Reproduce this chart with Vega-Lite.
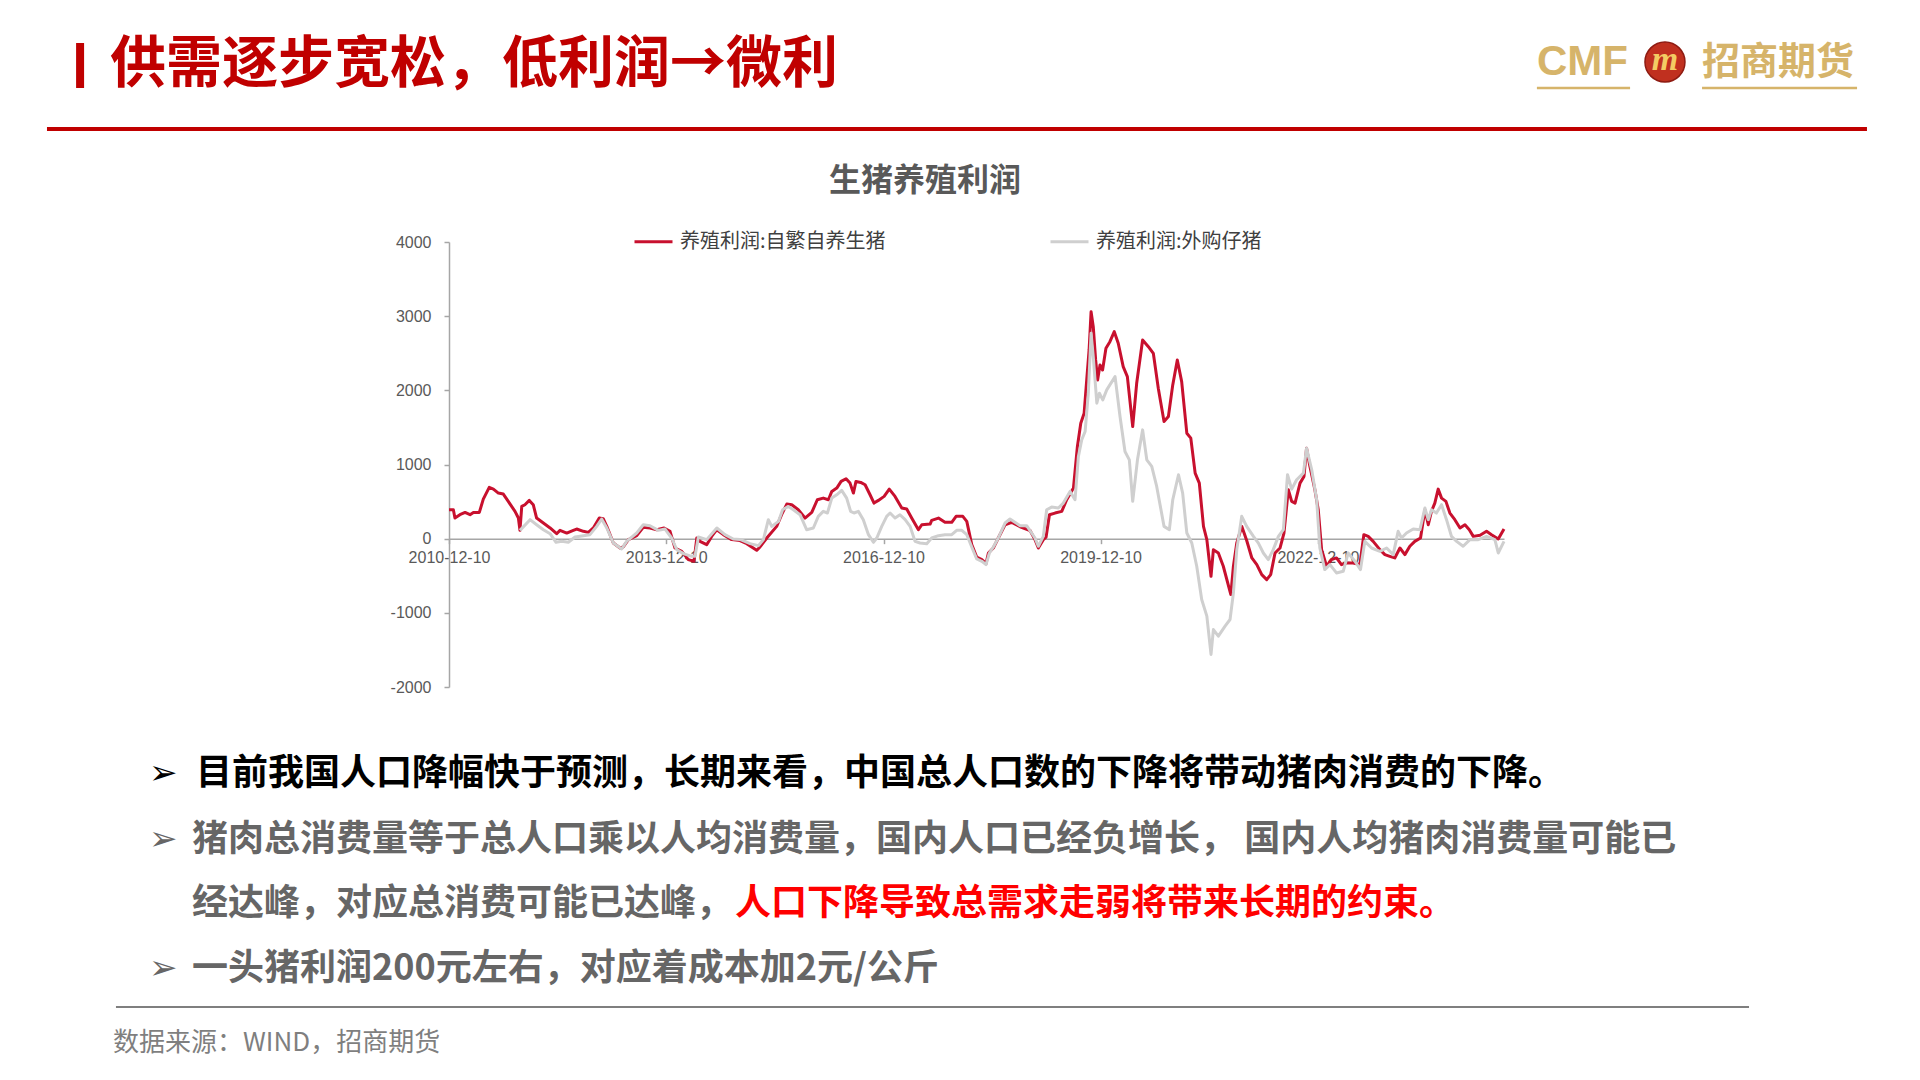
{
  "$schema": "https://vega.github.io/schema/vega-lite/v6.json",
  "width": 1055,
  "height": 445,
  "autosize": {"type": "none"},
  "padding": {"left": 449, "top": 242, "right": 416, "bottom": 393},
  "background": "white",
  "config": {"view": {"stroke": null}, "font": "Noto Sans CJK SC"},
  "datasets": {
    "pig": [
      {"date":"2010-12-10","series":"养殖利润:自繁自养生猪","value":390},
      {"date":"2011-01-01","series":"养殖利润:自繁自养生猪","value":390},
      {"date":"2011-01-09","series":"养殖利润:自繁自养生猪","value":278},
      {"date":"2011-02-03","series":"养殖利润:自繁自养生猪","value":323},
      {"date":"2011-03-01","series":"养殖利润:自繁自养生猪","value":354},
      {"date":"2011-03-26","series":"养殖利润:自繁自养生猪","value":323},
      {"date":"2011-04-12","series":"养殖利润:自繁自养生猪","value":354},
      {"date":"2011-05-12","series":"养殖利润:自繁自养生猪","value":354},
      {"date":"2011-06-01","series":"养殖利润:自繁自养生猪","value":534},
      {"date":"2011-07-01","series":"养殖利润:自繁自养生猪","value":691},
      {"date":"2011-07-22","series":"养殖利润:自繁自养生猪","value":668},
      {"date":"2011-08-16","series":"养殖利润:自繁自养生猪","value":615},
      {"date":"2011-09-10","series":"养殖利润:自繁自养生猪","value":601},
      {"date":"2011-10-05","series":"养殖利润:自繁自养生猪","value":502},
      {"date":"2011-11-08","series":"养殖利润:自繁自养生猪","value":368},
      {"date":"2011-11-25","series":"养殖利润:自繁自养生猪","value":278},
      {"date":"2011-12-03","series":"养殖利润:自繁自养生猪","value":112},
      {"date":"2011-12-12","series":"养殖利润:自繁自养生猪","value":435},
      {"date":"2011-12-28","series":"养殖利润:自繁自养生猪","value":458},
      {"date":"2012-01-19","series":"养殖利润:自繁自养生猪","value":516},
      {"date":"2012-02-08","series":"养殖利润:自繁自养生猪","value":458},
      {"date":"2012-02-25","series":"养殖利润:自繁自养生猪","value":278},
      {"date":"2012-03-30","series":"养殖利润:自繁自养生猪","value":211},
      {"date":"2012-05-03","series":"养殖利润:自繁自养生猪","value":144},
      {"date":"2012-06-05","series":"养殖利润:自繁自养生猪","value":67},
      {"date":"2012-06-22","series":"养殖利润:自繁自养生猪","value":112},
      {"date":"2012-07-26","series":"养殖利润:自繁自养生猪","value":76},
      {"date":"2012-08-28","series":"养殖利润:自繁自养生猪","value":112},
      {"date":"2012-09-14","series":"养殖利润:自繁自养生猪","value":130},
      {"date":"2012-10-18","series":"养殖利润:自繁自养生猪","value":99},
      {"date":"2012-11-12","series":"养殖利润:自繁自养生猪","value":85},
      {"date":"2012-12-07","series":"养殖利润:自繁自养生猪","value":144},
      {"date":"2013-01-06","series":"养殖利润:自繁自养生猪","value":278},
      {"date":"2013-01-26","series":"养殖利润:自繁自养生猪","value":269},
      {"date":"2013-02-13","series":"养殖利润:自繁自养生猪","value":166},
      {"date":"2013-03-18","series":"养殖利润:自繁自养生猪","value":-58},
      {"date":"2013-04-21","series":"养殖利润:自繁自养生猪","value":-126},
      {"date":"2013-05-07","series":"养殖利润:自繁自养生猪","value":-112},
      {"date":"2013-06-02","series":"养殖利润:自繁自养生猪","value":-13},
      {"date":"2013-07-14","series":"养殖利润:自繁自养生猪","value":40},
      {"date":"2013-08-16","series":"养殖利润:自繁自养生猪","value":153},
      {"date":"2013-09-19","series":"养殖利润:自繁自养生猪","value":144},
      {"date":"2013-10-23","series":"养殖利润:自繁自养生猪","value":121},
      {"date":"2013-11-29","series":"养殖利润:自繁自养生猪","value":144},
      {"date":"2013-12-29","series":"养殖利润:自繁自养生猪","value":99},
      {"date":"2014-01-23","series":"养殖利润:自繁自养生猪","value":-126},
      {"date":"2014-02-26","series":"养殖利润:自繁自养生猪","value":-171},
      {"date":"2014-03-31","series":"养殖利润:自繁自养生猪","value":-283},
      {"date":"2014-04-29","series":"养殖利润:自繁自养生猪","value":-305},
      {"date":"2014-05-13","series":"养殖利润:自繁自养生猪","value":9},
      {"date":"2014-05-29","series":"养殖利润:自繁自养生猪","value":-36},
      {"date":"2014-07-02","series":"养殖利润:自繁自养生猪","value":-81},
      {"date":"2014-07-27","series":"养殖利润:自繁自养生猪","value":31},
      {"date":"2014-08-22","series":"养殖利润:自繁自养生猪","value":121},
      {"date":"2014-09-24","series":"养殖利润:自繁自养生猪","value":54},
      {"date":"2014-11-05","series":"养殖利润:自繁自养生猪","value":-13},
      {"date":"2014-12-17","series":"养殖利润:自繁自养生猪","value":-25},
      {"date":"2015-01-20","series":"养殖利润:自繁自养生猪","value":-67},
      {"date":"2015-02-14","series":"养殖利润:自繁自养生猪","value":-112},
      {"date":"2015-03-11","series":"养殖利润:自繁自养生猪","value":-157},
      {"date":"2015-03-28","series":"养殖利润:自繁自养生猪","value":-112},
      {"date":"2015-05-01","series":"养殖利润:自繁自养生猪","value":9},
      {"date":"2015-06-20","series":"养殖利润:自繁自养生猪","value":166},
      {"date":"2015-07-15","series":"养殖利润:自繁自养生猪","value":323},
      {"date":"2015-08-10","series":"养殖利润:自繁自养生猪","value":467},
      {"date":"2015-09-04","series":"养殖利润:自繁自养生猪","value":458},
      {"date":"2015-10-07","series":"养殖利润:自繁自养生猪","value":390},
      {"date":"2015-11-10","series":"养殖利润:自繁自养生猪","value":278},
      {"date":"2015-12-14","series":"养殖利润:自繁自养生猪","value":354},
      {"date":"2016-01-11","series":"养殖利润:自繁自养生猪","value":525},
      {"date":"2016-02-10","series":"养殖利润:自繁自养生猪","value":547},
      {"date":"2016-03-07","series":"养殖利润:自繁自养生猪","value":525},
      {"date":"2016-03-24","series":"养殖利润:自繁自养生猪","value":637},
      {"date":"2016-04-18","series":"养殖利润:自繁自养生猪","value":682},
      {"date":"2016-05-10","series":"养殖利润:自繁自养生猪","value":772},
      {"date":"2016-06-04","series":"养殖利润:自繁自养生猪","value":808},
      {"date":"2016-06-24","series":"养殖利润:自繁自养生猪","value":749},
      {"date":"2016-07-11","series":"养殖利润:自繁自养生猪","value":615},
      {"date":"2016-07-24","series":"养殖利润:自繁自养生猪","value":772},
      {"date":"2016-08-17","series":"养殖利润:自繁自养生猪","value":758},
      {"date":"2016-09-08","series":"养殖利润:自繁自养生猪","value":727},
      {"date":"2016-10-03","series":"养殖利润:自繁自养生猪","value":592},
      {"date":"2016-10-23","series":"养殖利润:自繁自养生猪","value":480},
      {"date":"2016-11-14","series":"养殖利润:自繁自养生猪","value":516},
      {"date":"2016-12-13","series":"养殖利润:自繁自养生猪","value":570},
      {"date":"2017-01-08","series":"养殖利润:自繁自养生猪","value":668},
      {"date":"2017-02-06","series":"养殖利润:自繁自养生猪","value":570},
      {"date":"2017-03-12","series":"养殖利润:自繁自养生猪","value":413},
      {"date":"2017-04-06","series":"养殖利润:自繁自养生猪","value":399},
      {"date":"2017-05-01","series":"养殖利润:自繁自养生猪","value":278},
      {"date":"2017-06-04","series":"养殖利润:自繁自养生猪","value":121},
      {"date":"2017-06-21","series":"养殖利润:自繁自养生猪","value":188},
      {"date":"2017-08-02","series":"养殖利润:自繁自养生猪","value":197},
      {"date":"2017-08-10","series":"养殖利润:自繁自养生猪","value":247},
      {"date":"2017-09-13","series":"养殖利润:自繁自养生猪","value":278},
      {"date":"2017-10-16","series":"养殖利润:自繁自养生猪","value":220},
      {"date":"2017-11-19","series":"养殖利润:自繁自养生猪","value":220},
      {"date":"2017-12-11","series":"养殖利润:自繁自养生猪","value":301},
      {"date":"2018-01-14","series":"养殖利润:自繁自养生猪","value":301},
      {"date":"2018-02-03","series":"养殖利润:自繁自养生猪","value":233},
      {"date":"2018-02-28","series":"养殖利润:自繁自养生猪","value":-81},
      {"date":"2018-03-25","series":"养殖利润:自繁自养生猪","value":-247},
      {"date":"2018-04-20","series":"养殖利润:自繁自养生猪","value":-283},
      {"date":"2018-05-11","series":"养殖利润:自繁自养生猪","value":-337},
      {"date":"2018-05-23","series":"养殖利润:自繁自养生猪","value":-193},
      {"date":"2018-06-17","series":"养殖利润:自繁自养生猪","value":-126},
      {"date":"2018-07-12","series":"养殖利润:自繁自养生猪","value":9},
      {"date":"2018-08-15","series":"养殖利润:自繁自养生猪","value":188},
      {"date":"2018-09-18","series":"养殖利润:自繁自养生猪","value":220},
      {"date":"2018-10-30","series":"养殖利润:自繁自养生猪","value":160},
      {"date":"2018-12-19","series":"养殖利润:自繁自养生猪","value":110},
      {"date":"2019-01-13","series":"养殖利润:自繁自养生猪","value":-13},
      {"date":"2019-01-30","series":"养殖利润:自繁自养生猪","value":-126},
      {"date":"2019-02-24","series":"养殖利润:自繁自养生猪","value":-13},
      {"date":"2019-03-10","series":"养殖利润:自繁自养生猪","value":22},
      {"date":"2019-03-27","series":"养殖利润:自繁自养生猪","value":323},
      {"date":"2019-04-24","series":"养殖利润:自繁自养生猪","value":345},
      {"date":"2019-05-28","series":"养殖利润:自繁自养生猪","value":368},
      {"date":"2019-06-22","series":"养殖利润:自繁自养生猪","value":525},
      {"date":"2019-07-26","series":"养殖利润:自繁自养生猪","value":682},
      {"date":"2019-08-15","series":"养殖利润:自繁自养生猪","value":1243},
      {"date":"2019-09-01","series":"养殖利润:自繁自养生猪","value":1557},
      {"date":"2019-09-18","series":"养殖利润:自繁自养生猪","value":1692},
      {"date":"2019-10-01","series":"养殖利润:自繁自养生猪","value":2140},
      {"date":"2019-10-13","series":"养殖利润:自繁自养生猪","value":2544},
      {"date":"2019-10-23","series":"养殖利润:自繁自养生猪","value":3060},
      {"date":"2019-11-03","series":"养殖利润:自繁自养生猪","value":2858},
      {"date":"2019-11-15","series":"养殖利润:自繁自养生猪","value":2410},
      {"date":"2019-11-25","series":"养殖利润:自繁自养生猪","value":2140},
      {"date":"2019-12-07","series":"养殖利润:自繁自养生猪","value":2342},
      {"date":"2019-12-20","series":"养殖利润:自繁自养生猪","value":2275},
      {"date":"2020-01-06","series":"养殖利润:自繁自养生猪","value":2567},
      {"date":"2020-01-26","series":"养殖利润:自繁自养生猪","value":2656},
      {"date":"2020-02-17","series":"养殖利润:自繁自养生猪","value":2791},
      {"date":"2020-03-08","series":"养殖利润:自繁自养生猪","value":2634},
      {"date":"2020-04-02","series":"养殖利润:自繁自养生猪","value":2320},
      {"date":"2020-04-23","series":"养殖利润:自繁自养生猪","value":2185},
      {"date":"2020-05-20","series":"养殖利润:自繁自养生猪","value":1512},
      {"date":"2020-06-09","series":"养殖利润:自繁自养生猪","value":2095},
      {"date":"2020-07-09","series":"养殖利润:自繁自养生猪","value":2679},
      {"date":"2020-08-07","series":"养殖利润:自繁自养生猪","value":2589},
      {"date":"2020-09-01","series":"养殖利润:自繁自养生猪","value":2499},
      {"date":"2020-09-26","series":"养殖利润:自繁自养生猪","value":2028},
      {"date":"2020-10-25","series":"养殖利润:自繁自养生猪","value":1579},
      {"date":"2020-11-16","series":"养殖利润:自繁自养生猪","value":1647},
      {"date":"2020-12-08","series":"养殖利润:自繁自养生猪","value":2073},
      {"date":"2020-12-31","series":"养殖利润:自繁自养生猪","value":2410},
      {"date":"2021-01-22","series":"养殖利润:自繁自养生猪","value":2118},
      {"date":"2021-02-17","series":"养殖利润:自繁自养生猪","value":1422},
      {"date":"2021-03-09","series":"养殖利润:自繁自养生猪","value":1355},
      {"date":"2021-03-31","series":"养殖利润:自繁自养生猪","value":884},
      {"date":"2021-04-21","series":"养殖利润:自繁自养生猪","value":749},
      {"date":"2021-05-12","series":"养殖利润:自繁自养生猪","value":166},
      {"date":"2021-05-29","series":"养殖利润:自繁自养生猪","value":-13},
      {"date":"2021-06-19","series":"养殖利润:自繁自养生猪","value":-507},
      {"date":"2021-07-01","series":"养殖利润:自繁自养生猪","value":-148},
      {"date":"2021-07-26","series":"养殖利润:自繁自养生猪","value":-193},
      {"date":"2021-08-20","series":"养殖利润:自繁自养生猪","value":-372},
      {"date":"2021-09-27","series":"养殖利润:自繁自养生猪","value":-754},
      {"date":"2021-10-10","series":"养殖利润:自繁自养生猪","value":-372},
      {"date":"2021-10-27","series":"养殖利润:自繁自养生猪","value":-58},
      {"date":"2021-11-21","series":"养殖利润:自繁自养生猪","value":166},
      {"date":"2021-12-16","series":"养殖利润:自繁自养生猪","value":-25},
      {"date":"2022-01-11","series":"养殖利润:自繁自养生猪","value":-260},
      {"date":"2022-02-05","series":"养殖利润:自繁自养生猪","value":-350},
      {"date":"2022-03-02","series":"养殖利润:自繁自养生猪","value":-485},
      {"date":"2022-03-27","series":"养殖利润:自繁自养生猪","value":-552},
      {"date":"2022-04-16","series":"养殖利润:自繁自养生猪","value":-485},
      {"date":"2022-05-08","series":"养殖利润:自繁自养生猪","value":-193},
      {"date":"2022-06-02","series":"养殖利润:自繁自养生猪","value":-126},
      {"date":"2022-06-22","series":"养殖利润:自繁自养生猪","value":76},
      {"date":"2022-07-14","series":"养殖利润:自繁自养生猪","value":660},
      {"date":"2022-07-31","series":"养殖利润:自繁自养生猪","value":503},
      {"date":"2022-08-17","series":"养殖利润:自繁自养生猪","value":480},
      {"date":"2022-09-11","series":"养殖利润:自繁自养生猪","value":749},
      {"date":"2022-10-01","series":"养殖利润:自繁自养生猪","value":839},
      {"date":"2022-10-14","series":"养殖利润:自繁自养生猪","value":1220},
      {"date":"2022-10-31","series":"养殖利润:自繁自养生猪","value":974},
      {"date":"2022-11-25","series":"养殖利润:自繁自养生猪","value":660},
      {"date":"2022-12-12","series":"养殖利润:自繁自养生猪","value":390},
      {"date":"2022-12-29","series":"养殖利润:自繁自养生猪","value":-148},
      {"date":"2023-01-23","series":"养殖利润:自繁自养生猪","value":-372},
      {"date":"2023-02-17","series":"养殖利润:自繁自养生猪","value":-283},
      {"date":"2023-03-14","series":"养殖利润:自繁自养生猪","value":-260},
      {"date":"2023-04-08","series":"养殖利润:自繁自养生猪","value":-350},
      {"date":"2023-05-04","series":"养殖利润:自繁自养生猪","value":-328},
      {"date":"2023-06-06","series":"养殖利润:自繁自养生猪","value":-328},
      {"date":"2023-07-10","series":"养殖利润:自繁自养生猪","value":-350},
      {"date":"2023-07-30","series":"养殖利润:自繁自养生猪","value":54},
      {"date":"2023-08-21","series":"养殖利润:自繁自养生猪","value":31},
      {"date":"2023-09-15","series":"养殖利润:自繁自养生猪","value":-36},
      {"date":"2023-10-19","series":"养殖利润:自繁自养生猪","value":-148},
      {"date":"2023-11-13","series":"养殖利润:自繁自养生猪","value":-215},
      {"date":"2023-12-08","series":"养殖利润:自繁自养生猪","value":-238},
      {"date":"2024-01-02","series":"养殖利润:自繁自养生猪","value":-260},
      {"date":"2024-01-28","series":"养殖利润:自繁自养生猪","value":-126},
      {"date":"2024-02-22","series":"养殖利润:自繁自养生猪","value":-215},
      {"date":"2024-03-18","series":"养殖利润:自繁自养生猪","value":-103},
      {"date":"2024-04-12","series":"养殖利润:自繁自养生猪","value":-36},
      {"date":"2024-05-11","series":"养殖利润:自繁自养生猪","value":9},
      {"date":"2024-06-02","series":"养殖利润:自繁自养生猪","value":390},
      {"date":"2024-06-19","series":"养殖利润:自繁自养生猪","value":188},
      {"date":"2024-07-05","series":"养殖利润:自繁自养生猪","value":368},
      {"date":"2024-07-22","series":"养殖利润:自繁自养生猪","value":480},
      {"date":"2024-08-08","series":"养殖利润:自繁自养生猪","value":668},
      {"date":"2024-08-25","series":"养殖利润:自繁自养生猪","value":547},
      {"date":"2024-09-16","series":"养殖利润:自繁自养生猪","value":503},
      {"date":"2024-10-06","series":"养殖利润:自繁自养生猪","value":345},
      {"date":"2024-10-31","series":"养殖利润:自繁自养生猪","value":256},
      {"date":"2024-11-26","series":"养殖利润:自繁自养生猪","value":144},
      {"date":"2024-12-21","series":"养殖利润:自繁自养生猪","value":188},
      {"date":"2025-01-12","series":"养殖利润:自繁自养生猪","value":121},
      {"date":"2025-02-01","series":"养殖利润:自繁自养生猪","value":31},
      {"date":"2025-03-07","series":"养殖利润:自繁自养生猪","value":45},
      {"date":"2025-04-09","series":"养殖利润:自繁自养生猪","value":99},
      {"date":"2025-05-04","series":"养殖利润:自繁自养生猪","value":54},
      {"date":"2025-06-07","series":"养殖利润:自繁自养生猪","value":-4},
      {"date":"2025-07-06","series":"养殖利润:自繁自养生猪","value":130},
      {"date":"2011-12-03","series":"养殖利润:外购仔猪","value":112},
      {"date":"2012-01-23","series":"养殖利润:外购仔猪","value":256},
      {"date":"2012-02-25","series":"养殖利润:外购仔猪","value":188},
      {"date":"2012-03-30","series":"养殖利润:外购仔猪","value":121},
      {"date":"2012-05-03","series":"养殖利润:外购仔猪","value":67},
      {"date":"2012-06-02","series":"养殖利润:外购仔猪","value":-49},
      {"date":"2012-06-30","series":"养殖利润:外购仔猪","value":-36},
      {"date":"2012-08-03","series":"养殖利润:外购仔猪","value":-49},
      {"date":"2012-09-06","series":"养殖利润:外购仔猪","value":22},
      {"date":"2012-10-18","series":"养殖利润:外购仔猪","value":40},
      {"date":"2012-11-20","series":"养殖利润:外购仔猪","value":54},
      {"date":"2012-12-24","series":"养殖利润:外购仔猪","value":166},
      {"date":"2013-01-18","series":"养殖利润:外购仔猪","value":265},
      {"date":"2013-02-13","series":"养殖利润:外购仔猪","value":144},
      {"date":"2013-03-18","series":"养殖利润:外购仔猪","value":-58},
      {"date":"2013-04-29","series":"养殖利润:外购仔猪","value":-139},
      {"date":"2013-05-24","series":"养殖利润:外购仔猪","value":-36},
      {"date":"2013-07-14","series":"养殖利润:外购仔猪","value":76},
      {"date":"2013-08-16","series":"养殖利润:外购仔猪","value":188},
      {"date":"2013-09-19","series":"养殖利润:外购仔猪","value":175},
      {"date":"2013-10-31","series":"养殖利润:外购仔猪","value":112},
      {"date":"2013-12-04","series":"养殖利润:外购仔猪","value":130},
      {"date":"2014-01-06","series":"养殖利润:外购仔猪","value":9},
      {"date":"2014-02-01","series":"养殖利润:外购仔猪","value":-148},
      {"date":"2014-03-06","series":"养殖利润:外购仔猪","value":-202},
      {"date":"2014-04-17","series":"养殖利润:外购仔猪","value":-238},
      {"date":"2014-05-04","series":"养殖利润:外购仔猪","value":-238},
      {"date":"2014-05-21","series":"养殖利润:外购仔猪","value":22},
      {"date":"2014-07-02","series":"养殖利润:外购仔猪","value":-13},
      {"date":"2014-08-22","series":"养殖利润:外购仔猪","value":144},
      {"date":"2014-10-02","series":"养殖利润:外购仔猪","value":54},
      {"date":"2014-11-13","series":"养殖利润:外购仔猪","value":-4},
      {"date":"2014-12-17","series":"养殖利润:外购仔猪","value":-10},
      {"date":"2015-02-06","series":"养殖利润:外购仔猪","value":-67},
      {"date":"2015-03-20","series":"养殖利润:外购仔猪","value":-94},
      {"date":"2015-04-14","series":"养殖利润:外购仔猪","value":-13},
      {"date":"2015-05-09","series":"养殖利润:外购仔猪","value":256},
      {"date":"2015-05-26","series":"养殖利润:外购仔猪","value":166},
      {"date":"2015-06-29","series":"养殖利润:外购仔猪","value":233},
      {"date":"2015-07-20","series":"养殖利润:外购仔猪","value":390},
      {"date":"2015-08-18","series":"养殖利润:外购仔猪","value":435},
      {"date":"2015-09-12","series":"养殖利润:外购仔猪","value":390},
      {"date":"2015-10-16","series":"养殖利润:外购仔猪","value":323},
      {"date":"2015-11-18","series":"养殖利润:外购仔猪","value":121},
      {"date":"2015-12-22","series":"养殖利润:外购仔猪","value":144},
      {"date":"2016-01-16","series":"养殖利润:外购仔猪","value":301},
      {"date":"2016-02-10","series":"养殖利润:外购仔猪","value":368},
      {"date":"2016-03-02","series":"养殖利润:外购仔猪","value":346},
      {"date":"2016-03-24","series":"养殖利润:外购仔猪","value":547},
      {"date":"2016-04-18","series":"养殖利润:外购仔猪","value":592},
      {"date":"2016-05-13","series":"养殖利润:外购仔猪","value":651},
      {"date":"2016-06-07","series":"养殖利润:外购仔猪","value":547},
      {"date":"2016-06-27","series":"养殖利润:外购仔猪","value":368},
      {"date":"2016-07-14","series":"养殖利润:外购仔猪","value":346},
      {"date":"2016-08-05","series":"养殖利润:外购仔猪","value":368},
      {"date":"2016-08-30","series":"养殖利润:外购仔猪","value":256},
      {"date":"2016-09-25","series":"养殖利润:外购仔猪","value":54},
      {"date":"2016-10-20","series":"养殖利润:外购仔猪","value":-49},
      {"date":"2016-11-06","series":"养殖利润:外购仔猪","value":9},
      {"date":"2016-12-01","series":"养殖利润:外购仔猪","value":166},
      {"date":"2016-12-26","series":"养殖利润:外购仔猪","value":301},
      {"date":"2017-01-12","series":"养殖利润:外购仔猪","value":346},
      {"date":"2017-02-06","series":"养殖利润:外购仔猪","value":278},
      {"date":"2017-03-03","series":"养殖利润:外购仔猪","value":323},
      {"date":"2017-03-29","series":"养殖利润:外购仔猪","value":256},
      {"date":"2017-04-23","series":"养殖利润:外购仔猪","value":166},
      {"date":"2017-05-18","series":"养殖利润:外购仔猪","value":-36},
      {"date":"2017-06-12","series":"养殖利润:外购仔猪","value":-58},
      {"date":"2017-07-16","series":"养殖利润:外购仔猪","value":-67},
      {"date":"2017-08-10","series":"养殖利润:外购仔猪","value":9},
      {"date":"2017-09-13","series":"养殖利润:外购仔猪","value":40},
      {"date":"2017-10-16","series":"养殖利润:外购仔猪","value":54},
      {"date":"2017-11-19","series":"养殖利润:外购仔猪","value":54},
      {"date":"2017-12-14","series":"养殖利润:外购仔猪","value":112},
      {"date":"2018-01-09","series":"养殖利润:外购仔猪","value":112},
      {"date":"2018-02-03","series":"养殖利润:外购仔猪","value":54},
      {"date":"2018-02-28","series":"养殖利润:外购仔猪","value":-112},
      {"date":"2018-03-25","series":"养殖利润:外购仔猪","value":-274},
      {"date":"2018-04-20","series":"养殖利润:外购仔猪","value":-305},
      {"date":"2018-05-11","series":"养殖利润:外购仔猪","value":-350},
      {"date":"2018-05-28","series":"养殖利润:外购仔猪","value":-193},
      {"date":"2018-06-17","series":"养殖利润:外购仔猪","value":-112},
      {"date":"2018-07-12","series":"养殖利润:外购仔猪","value":9},
      {"date":"2018-08-15","series":"养殖利润:外购仔猪","value":211},
      {"date":"2018-09-09","series":"养殖利润:外购仔猪","value":265},
      {"date":"2018-10-30","series":"养殖利润:外购仔猪","value":175},
      {"date":"2018-12-02","series":"养殖利润:外购仔猪","value":175},
      {"date":"2019-01-13","series":"养殖利润:外购仔猪","value":9},
      {"date":"2019-01-30","series":"养殖利润:外购仔猪","value":-103},
      {"date":"2019-02-24","series":"养殖利润:外购仔猪","value":31},
      {"date":"2019-03-13","series":"养殖利润:外购仔猪","value":390},
      {"date":"2019-04-07","series":"养殖利润:外购仔猪","value":426},
      {"date":"2019-05-11","series":"养殖利润:外购仔猪","value":413},
      {"date":"2019-06-05","series":"养殖利润:外购仔猪","value":480},
      {"date":"2019-07-09","series":"养殖利润:外购仔猪","value":637},
      {"date":"2019-08-03","series":"养殖利润:外购仔猪","value":525},
      {"date":"2019-08-20","series":"养殖利润:外购仔猪","value":1108},
      {"date":"2019-09-06","series":"养殖利润:外购仔猪","value":1333},
      {"date":"2019-09-23","series":"养殖利润:外购仔猪","value":1445},
      {"date":"2019-10-09","series":"养殖利润:外购仔猪","value":1961},
      {"date":"2019-10-23","series":"养殖利润:外购仔猪","value":2768},
      {"date":"2019-11-03","series":"养殖利润:外购仔猪","value":2454},
      {"date":"2019-11-21","series":"养殖利润:外购仔猪","value":1826},
      {"date":"2019-12-04","series":"养殖利润:外购仔猪","value":1961},
      {"date":"2019-12-21","series":"养殖利润:外购仔猪","value":1871},
      {"date":"2020-01-10","series":"养殖利润:外购仔猪","value":2006},
      {"date":"2020-02-21","series":"养殖利润:外购仔猪","value":2185},
      {"date":"2020-03-17","series":"养殖利润:外购仔猪","value":1647},
      {"date":"2020-04-11","series":"养殖利润:外购仔猪","value":1176},
      {"date":"2020-05-03","series":"养殖利润:外购仔猪","value":1063},
      {"date":"2020-05-20","series":"养殖利润:外购仔猪","value":503},
      {"date":"2020-06-13","series":"养殖利润:外购仔猪","value":1063},
      {"date":"2020-07-09","series":"养殖利润:外购仔猪","value":1467},
      {"date":"2020-07-30","series":"养殖利润:外购仔猪","value":1063},
      {"date":"2020-08-24","series":"养殖利润:外购仔猪","value":974},
      {"date":"2020-09-18","series":"养殖利润:外购仔猪","value":704},
      {"date":"2020-10-25","series":"养殖利润:外购仔猪","value":166},
      {"date":"2020-11-21","series":"养殖利润:外购仔猪","value":121},
      {"date":"2020-12-08","series":"养殖利润:外购仔猪","value":525},
      {"date":"2021-01-06","series":"养殖利润:外购仔猪","value":862},
      {"date":"2021-01-27","series":"养殖利润:外购仔猪","value":615},
      {"date":"2021-02-17","series":"养殖利润:外购仔猪","value":76},
      {"date":"2021-03-14","series":"养殖利润:外购仔猪","value":-58},
      {"date":"2021-04-08","series":"养殖利润:外购仔猪","value":-372},
      {"date":"2021-05-03","series":"养殖利润:外购仔猪","value":-821},
      {"date":"2021-05-29","series":"养殖利润:外购仔猪","value":-1045},
      {"date":"2021-06-19","series":"养殖利润:外购仔猪","value":-1561},
      {"date":"2021-07-01","series":"养殖利润:外购仔猪","value":-1225},
      {"date":"2021-07-26","series":"养殖利润:外购仔猪","value":-1315},
      {"date":"2021-08-29","series":"养殖利润:外购仔猪","value":-1180},
      {"date":"2021-09-23","series":"养殖利润:外购仔猪","value":-1090},
      {"date":"2021-10-10","series":"养殖利润:外购仔猪","value":-731},
      {"date":"2021-10-27","series":"养殖利润:外购仔猪","value":-148},
      {"date":"2021-11-21","series":"养殖利润:外购仔猪","value":301},
      {"date":"2021-12-16","series":"养殖利润:外购仔猪","value":166},
      {"date":"2022-01-19","series":"养殖利润:外购仔猪","value":31},
      {"date":"2022-02-13","series":"养殖利润:外购仔猪","value":-60},
      {"date":"2022-03-10","series":"养殖利润:外购仔猪","value":-193},
      {"date":"2022-04-04","series":"养殖利润:外购仔猪","value":-283},
      {"date":"2022-04-29","series":"养殖利润:外购仔猪","value":-148},
      {"date":"2022-05-25","series":"养殖利润:外购仔猪","value":31},
      {"date":"2022-06-19","series":"养殖利润:外购仔猪","value":121},
      {"date":"2022-07-10","series":"养殖利润:外购仔猪","value":862},
      {"date":"2022-07-31","series":"养殖利润:外购仔猪","value":668},
      {"date":"2022-08-25","series":"养殖利润:外购仔猪","value":794},
      {"date":"2022-09-28","series":"养殖利润:外购仔猪","value":884},
      {"date":"2022-10-14","series":"养殖利润:外购仔猪","value":1220},
      {"date":"2022-11-09","series":"养殖利润:外购仔猪","value":929},
      {"date":"2022-12-04","series":"养殖利润:外购仔猪","value":525},
      {"date":"2022-12-20","series":"养殖利润:外购仔猪","value":-126},
      {"date":"2023-01-14","series":"养殖利润:外购仔猪","value":-417},
      {"date":"2023-02-09","series":"养殖利润:外购仔猪","value":-350},
      {"date":"2023-03-14","series":"养殖利润:外购仔猪","value":-462},
      {"date":"2023-04-17","series":"养殖利润:外购仔猪","value":-440},
      {"date":"2023-05-12","series":"养殖利润:外购仔猪","value":-193},
      {"date":"2023-06-15","series":"养殖利润:外购仔猪","value":-305},
      {"date":"2023-07-13","series":"养殖利润:外购仔猪","value":-417},
      {"date":"2023-08-04","series":"养殖利润:外购仔猪","value":-36},
      {"date":"2023-09-07","series":"养殖利润:外购仔猪","value":-126},
      {"date":"2023-10-19","series":"养殖利润:外购仔猪","value":-170},
      {"date":"2023-11-22","series":"养殖利润:外购仔猪","value":-126},
      {"date":"2023-12-25","series":"养殖利润:外购仔猪","value":-215},
      {"date":"2024-01-19","series":"养殖利润:外购仔猪","value":99},
      {"date":"2024-02-05","series":"养殖利润:外购仔猪","value":9},
      {"date":"2024-03-01","series":"养殖利润:外购仔猪","value":76},
      {"date":"2024-04-04","series":"养殖利润:外购仔猪","value":130},
      {"date":"2024-05-08","series":"养殖利润:外购仔猪","value":121},
      {"date":"2024-06-02","series":"养殖利润:外购仔猪","value":413},
      {"date":"2024-06-19","series":"养殖利润:外购仔猪","value":256},
      {"date":"2024-07-05","series":"养殖利润:外购仔猪","value":390},
      {"date":"2024-07-30","series":"养殖利润:外购仔猪","value":345},
      {"date":"2024-08-25","series":"养殖利润:外购仔猪","value":458},
      {"date":"2024-09-19","series":"养殖利润:外购仔猪","value":256},
      {"date":"2024-10-14","series":"养殖利润:外购仔猪","value":31},
      {"date":"2024-11-09","series":"养殖利润:外购仔猪","value":-36},
      {"date":"2024-12-12","series":"养殖利润:外购仔猪","value":-103},
      {"date":"2025-01-15","series":"养殖利润:外购仔猪","value":-13},
      {"date":"2025-02-26","series":"养殖利润:外购仔猪","value":-13},
      {"date":"2025-04-09","series":"养殖利润:外购仔猪","value":31},
      {"date":"2025-05-21","series":"养殖利润:外购仔猪","value":-13},
      {"date":"2025-06-07","series":"养殖利润:外购仔猪","value":-193},
      {"date":"2025-07-06","series":"养殖利润:外购仔猪","value":-36}
    ]
  },
  "layer": [
    {
      "data": {"name": "pig"},
      "transform": [{"filter": "datum.series === '养殖利润:自繁自养生猪'"}],
      "mark": {"type": "line", "strokeWidth": 3, "strokeJoin": "round"},
      "encoding": {
        "x": {"field": "date", "type": "temporal",
          "scale": {"type": "utc", "domain": [{"year": 2010, "month": 12, "date": 10, "utc": true}, {"year": 2025, "month": 7, "date": 6, "utc": true}]},
          "axis": {"title": null, "orient": "bottom", "offset": -148.33, "grid": false, "labelExpr": "utcFormat(datum.value, '%Y-%m-%d')",
            "values": [{"year": 2010, "month": 12, "date": 10, "utc": true}, {"year": 2013, "month": 12, "date": 10, "utc": true}, {"year": 2016, "month": 12, "date": 10, "utc": true}, {"year": 2019, "month": 12, "date": 10, "utc": true}, {"year": 2022, "month": 12, "date": 10, "utc": true}],
            "domainColor": "#A6A6A6", "domainWidth": 1.5, "tickColor": "#A6A6A6", "tickWidth": 1.5, "tickSize": 5,
            "labelFont": "Liberation Sans", "labelFontSize": 16, "labelColor": "#595959", "labelPadding": 6, "labelFlush": false, "labelOverlap": false}},
        "y": {"field": "value", "type": "quantitative",
          "scale": {"domain": [-2000, 4000], "nice": false, "zero": false},
          "axis": {"title": null, "grid": false, "values": [-2000, -1000, 0, 1000, 2000, 3000, 4000], "labelExpr": "'' + datum.value",
            "domainColor": "#A6A6A6", "domainWidth": 1.5, "tickColor": "#A6A6A6", "tickWidth": 1.5, "tickSize": 5,
            "labelFont": "Liberation Sans", "labelFontSize": 16, "labelColor": "#595959", "labelPadding": 13}},
        "color": {"field": "series", "type": "nominal",
          "scale": {"domain": ["养殖利润:自繁自养生猪", "养殖利润:外购仔猪"], "range": ["#C8102E", "#CFCFCF"]},
          "legend": {"title": null, "orient": "none", "legendX": 184, "legendY": -21, "direction": "horizontal",
            "symbolType": "stroke", "symbolStrokeWidth": 3, "symbolSize": 1444, "labelFont": "Noto Sans CJK SC", "labelFontSize": 20,
            "labelColor": "#404040", "labelOffset": 6, "labelLimit": 400, "columnPadding": 158, "padding": 0}}
      }
    },
    {
      "data": {"name": "pig"},
      "transform": [{"filter": "datum.series === '养殖利润:外购仔猪'"}],
      "mark": {"type": "line", "strokeWidth": 3, "strokeJoin": "round"},
      "encoding": {
        "x": {"field": "date", "type": "temporal"},
        "y": {"field": "value", "type": "quantitative"},
        "color": {"field": "series", "type": "nominal"}
      }
    },
    {
      "data": {"values": [{"part": "title bar"}]},
      "mark": {"type": "rule", "color": "#C00000", "strokeWidth": 8},
      "encoding": {
        "x": {"datum": {"year": 2005, "month": 11, "date": 5, "utc": true}, "type": "temporal"},
        "y": {"datum": 6683, "type": "quantitative"},
        "y2": {"datum": 6076}
      }
    },
    {
      "data": {"values": [{"text": "供需逐步宽松，低利润→微利"}]},
      "mark": {"type": "text", "align": "left", "baseline": "middle", "font": "Noto Sans CJK SC", "fontSize": 56, "fontWeight": "bold", "color": "#C00000"},
      "encoding": {
        "x": {"datum": {"year": 2006, "month": 4, "date": 5, "utc": true}, "type": "temporal"},
        "y": {"datum": 6386, "type": "quantitative"},
        "text": {"field": "text"}
      }
    },
    {
      "data": {"values": [{"part": "header line"}]},
      "mark": {"type": "rule", "color": "#C00000", "strokeWidth": 4},
      "encoding": {
        "x": {"datum": {"year": 2005, "month": 5, "date": 22, "utc": true}, "type": "temporal"},
        "x2": {"datum": {"year": 2030, "month": 7, "date": 11, "utc": true}},
        "y": {"datum": 5524, "type": "quantitative"}
      }
    },
    {
      "data": {"values": [{"text": "CMF"}]},
      "mark": {"type": "text", "align": "left", "baseline": "middle", "font": "Liberation Sans", "fontSize": 42, "fontWeight": "bold", "color": "#D6B46A"},
      "encoding": {
        "x": {"datum": {"year": 2025, "month": 12, "date": 19, "utc": true}, "type": "temporal"},
        "y": {"datum": 6427, "type": "quantitative"},
        "text": {"field": "text"}
      }
    },
    {
      "data": {"values": [{"part": "logo circle"}]},
      "mark": {"type": "point", "shape": "circle", "filled": true, "size": 1600, "color": "#C0301F", "stroke": "#8E1B12", "strokeWidth": 1.5, "opacity": 1},
      "encoding": {
        "x": {"datum": {"year": 2027, "month": 9, "date": 26, "utc": true}, "type": "temporal"},
        "y": {"datum": 6427, "type": "quantitative"}
      }
    },
    {
      "data": {"values": [{"text": "m"}]},
      "mark": {"type": "text", "align": "center", "baseline": "middle", "font": "Liberation Serif", "fontSize": 34, "fontWeight": "bold", "fontStyle": "italic", "color": "#F3CC63"},
      "encoding": {
        "x": {"datum": {"year": 2027, "month": 9, "date": 26, "utc": true}, "type": "temporal"},
        "y": {"datum": 6460, "type": "quantitative"},
        "text": {"field": "text"}
      }
    },
    {
      "data": {"values": [{"text": "招商期货"}]},
      "mark": {"type": "text", "align": "left", "baseline": "middle", "font": "Noto Sans CJK SC", "fontSize": 38, "fontWeight": "bold", "color": "#D6B46A"},
      "encoding": {
        "x": {"datum": {"year": 2028, "month": 3, "date": 31, "utc": true}, "type": "temporal"},
        "y": {"datum": 6413, "type": "quantitative"},
        "text": {"field": "text"}
      }
    },
    {
      "data": {"values": [{"part": "CMF underline"}]},
      "mark": {"type": "rule", "color": "#D6B46A", "strokeWidth": 2.5},
      "encoding": {
        "x": {"datum": {"year": 2025, "month": 12, "date": 19, "utc": true}, "type": "temporal"},
        "x2": {"datum": {"year": 2027, "month": 4, "date": 3, "utc": true}},
        "y": {"datum": 6076, "type": "quantitative"}
      }
    },
    {
      "data": {"values": [{"part": "name underline"}]},
      "mark": {"type": "rule", "color": "#D6B46A", "strokeWidth": 2.5},
      "encoding": {
        "x": {"datum": {"year": 2028, "month": 3, "date": 31, "utc": true}, "type": "temporal"},
        "x2": {"datum": {"year": 2030, "month": 5, "date": 22, "utc": true}},
        "y": {"datum": 6076, "type": "quantitative"}
      }
    },
    {
      "data": {"values": [{"text": "生猪养殖利润"}]},
      "mark": {"type": "text", "align": "center", "baseline": "middle", "font": "Noto Sans CJK SC", "fontSize": 32, "fontWeight": "bold", "color": "#595959"},
      "encoding": {
        "x": {"datum": {"year": 2017, "month": 7, "date": 7, "utc": true}, "type": "temporal"},
        "y": {"datum": 4822, "type": "quantitative"},
        "text": {"field": "text"}
      }
    },
    {
      "data": {"values": [{"text": "➢"}]},
      "mark": {"type": "text", "align": "left", "baseline": "middle", "font": "DejaVu Sans", "fontSize": 34, "color": "#000000"},
      "encoding": {
        "x": {"datum": {"year": 2006, "month": 10, "date": 19, "utc": true}, "type": "temporal"},
        "y": {"datum": -3173, "type": "quantitative"},
        "text": {"field": "text"}
      }
    },
    {
      "data": {"values": [{"text": "➢"}]},
      "mark": {"type": "text", "align": "left", "baseline": "middle", "font": "DejaVu Sans", "fontSize": 34, "color": "#666666"},
      "encoding": {
        "x": {"datum": {"year": 2006, "month": 10, "date": 19, "utc": true}, "type": "temporal"},
        "y": {"datum": -4063, "type": "quantitative"},
        "text": {"field": "text"}
      }
    },
    {
      "data": {"values": [{"text": "➢"}]},
      "mark": {"type": "text", "align": "left", "baseline": "middle", "font": "DejaVu Sans", "fontSize": 34, "color": "#666666"},
      "encoding": {
        "x": {"datum": {"year": 2006, "month": 10, "date": 19, "utc": true}, "type": "temporal"},
        "y": {"datum": -5802, "type": "quantitative"},
        "text": {"field": "text"}
      }
    },
    {
      "data": {"values": [{"text": "目前我国人口降幅快于预测，长期来看，中国总人口数的下降将带动猪肉消费的下降。"}]},
      "mark": {"type": "text", "align": "left", "baseline": "middle", "font": "Noto Sans CJK SC", "fontSize": 36, "fontWeight": "bold", "color": "#000000"},
      "encoding": {
        "x": {"datum": {"year": 2007, "month": 6, "date": 13, "utc": true}, "type": "temporal"},
        "y": {"datum": -3173, "type": "quantitative"},
        "text": {"field": "text"}
      }
    },
    {
      "data": {"values": [{"text": "猪肉总消费量等于总人口乘以人均消费量，国内人口已经负增长， 国内人均猪肉消费量可能已"}]},
      "mark": {"type": "text", "align": "left", "baseline": "middle", "font": "Noto Sans CJK SC", "fontSize": 36, "fontWeight": "bold", "color": "#666666"},
      "encoding": {
        "x": {"datum": {"year": 2007, "month": 5, "date": 24, "utc": true}, "type": "temporal"},
        "y": {"datum": -4063, "type": "quantitative"},
        "text": {"field": "text"}
      }
    },
    {
      "data": {"values": [{"text": "经达峰，对应总消费可能已达峰，"}]},
      "mark": {"type": "text", "align": "left", "baseline": "middle", "font": "Noto Sans CJK SC", "fontSize": 36, "fontWeight": "bold", "color": "#666666"},
      "encoding": {
        "x": {"datum": {"year": 2007, "month": 5, "date": 24, "utc": true}, "type": "temporal"},
        "y": {"datum": -4926, "type": "quantitative"},
        "text": {"field": "text"}
      }
    },
    {
      "data": {"values": [{"text": "人口下降导致总需求走弱将带来长期的约束。"}]},
      "mark": {"type": "text", "align": "left", "baseline": "middle", "font": "Noto Sans CJK SC", "fontSize": 36, "fontWeight": "bold", "color": "#FF0000"},
      "encoding": {
        "x": {"datum": {"year": 2014, "month": 11, "date": 22, "utc": true}, "type": "temporal"},
        "y": {"datum": -4926, "type": "quantitative"},
        "text": {"field": "text"}
      }
    },
    {
      "data": {"values": [{"text": "一头猪利润200元左右，对应着成本加2元/公斤"}]},
      "mark": {"type": "text", "align": "left", "baseline": "middle", "font": "Noto Sans CJK SC", "fontSize": 36, "fontWeight": "bold", "color": "#666666"},
      "encoding": {
        "x": {"datum": {"year": 2007, "month": 5, "date": 24, "utc": true}, "type": "temporal"},
        "y": {"datum": -5802, "type": "quantitative"},
        "text": {"field": "text"}
      }
    },
    {
      "data": {"values": [{"part": "separator"}]},
      "mark": {"type": "rule", "color": "#7F7F7F", "strokeWidth": 2},
      "encoding": {
        "x": {"datum": {"year": 2006, "month": 5, "date": 5, "utc": true}, "type": "temporal"},
        "x2": {"datum": {"year": 2028, "month": 11, "date": 23, "utc": true}},
        "y": {"datum": -6314, "type": "quantitative"}
      }
    },
    {
      "data": {"values": [{"text": "数据来源：WIND，招商期货"}]},
      "mark": {"type": "text", "align": "left", "baseline": "middle", "font": "Noto Sans CJK SC", "fontSize": 26, "color": "#7F7F7F"},
      "encoding": {
        "x": {"datum": {"year": 2006, "month": 4, "date": 20, "utc": true}, "type": "temporal"},
        "y": {"datum": -6800, "type": "quantitative"},
        "text": {"field": "text"}
      }
    }
  ]
}
